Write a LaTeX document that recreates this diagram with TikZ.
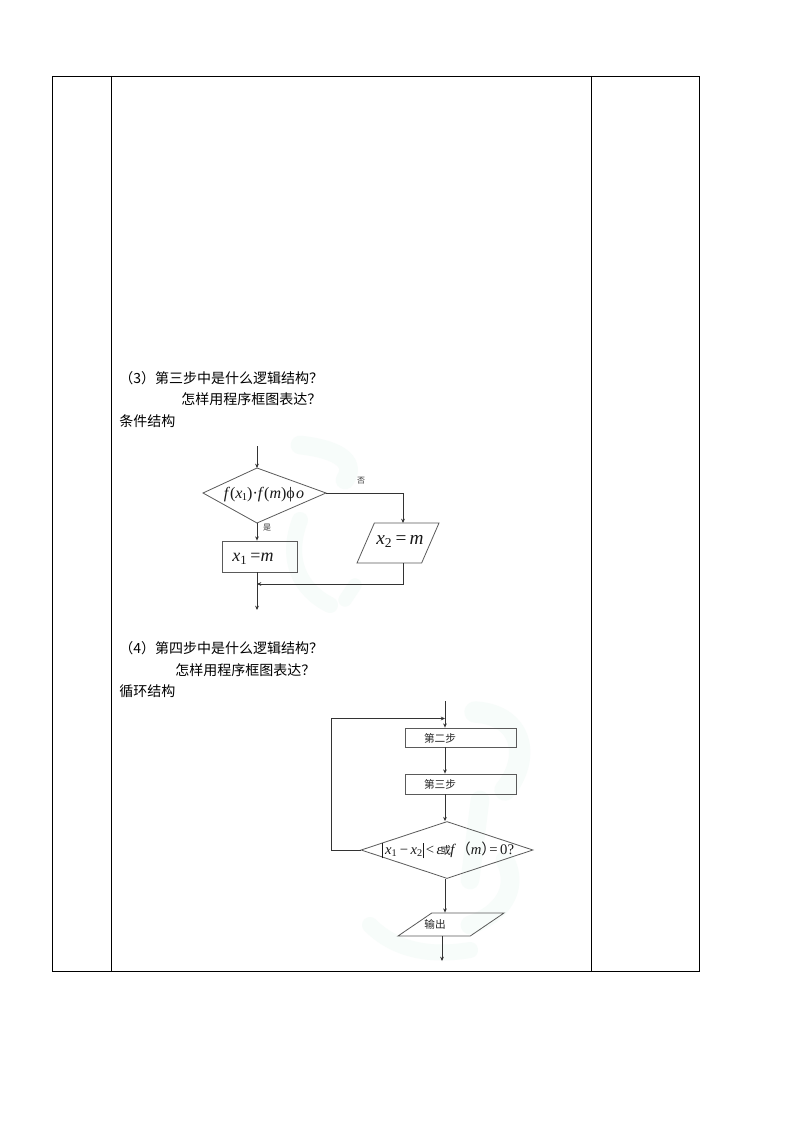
\documentclass[tikz,border=0pt]{standalone}
\usepackage{fontspec}
\usetikzlibrary{arrows.meta,shapes.geometric}
\setmainfont{Liberation Serif}
\newfontfamily\cjk{Noto Sans CJK SC}
\newcommand{\pxs}[1]{\fontsize{#1}{#1}\selectfont}
\newcommand{\vi}[1]{\textit{#1}}
\definecolor{boxgray}{HTML}{5A5A5A}
\definecolor{wm}{HTML}{F7FCFA}
\tikzset{
  x=0.75pt,y=-0.75pt,
  frame/.style={draw=black,line width=0.75pt},
  bodytext/.style={anchor=west,inner sep=0,font=\cjk\pxs{10.5pt},text=black},
  smalltext/.style={inner sep=0,font=\cjk\pxs{8pt},text=black!85},
  tinytext/.style={inner sep=0,font=\cjk\pxs{6pt},text=black!80},
  formula/.style={inner sep=0,font=\pxs{#1},text=black!90},
  processbox/.style={draw=boxgray,line width=0.6pt,rectangle,inner sep=0,minimum width=#1},
  decision/.style={draw=boxgray,line width=0.6pt,diamond,inner sep=0,aspect=2.2},
  decisionline/.style={draw=boxgray,line width=0.6pt,line join=miter},
  iobox/.style={draw=boxgray,line width=0.6pt,trapezium,trapezium stretches=true,inner sep=0},
  flow/.style={draw=black!80,line width=0.7pt},
  flowarrow/.style={flow,-{Stealth[length=3.2pt,width=2.8pt]}},
  blot/.style={draw=wm,line cap=round,line width=#1}
}
\begin{document}
\begin{tikzpicture}
\useasboundingbox (0,0) rectangle (794,1123);
\fill[white] (0,0) rectangle (794,1123);
% faint background watermark
\draw[blot=14pt] (300,445) .. controls (345,450) and (355,465) .. (345,480);
\draw[blot=12pt] (300,520) .. controls (285,560) and (300,590) .. (330,605);
\draw[blot=10pt] (345,600) -- (355,585);
\draw[blot=16pt] (475,712) .. controls (525,715) and (530,760) .. (505,790);
\draw[blot=14pt] (480,800) -- (470,880);
\draw[blot=14pt] (505,860) .. controls (520,890) and (500,915) .. (470,925);
\draw[blot=12pt] (370,925) .. controls (400,955) and (440,955) .. (470,950);
% table frame
\node[frame,rectangle,inner sep=0,minimum width=485.25pt,minimum height=671.25pt,anchor=north west] (tbl) at (52,76) {};
\coordinate (c1t) at (111,76); \coordinate (c1b) at (111,971);
\coordinate (c2t) at (591,76); \coordinate (c2b) at (591,971);
\draw[frame] (c1t) -- (c1b);
\draw[frame] (c2t) -- (c2b);
% texts
\node[bodytext] (t1) at (119,378) {（3）第三步中是什么逻辑结构？};
\node[bodytext] (t2) at (181,399) {怎样用程序框图表达？};
\node[bodytext] (t3) at (119,421) {条件结构};
\node[bodytext] (t4) at (119,648) {（4）第四步中是什么逻辑结构？};
\node[bodytext] (t5) at (175,670) {怎样用程序框图表达？};
\node[bodytext] (t6) at (119,691) {循环结构};
% flowchart 1
\coordinate (a0) at (257,446);
\coordinate (d1n) at (257,468);
\coordinate (d1e) at (326,493);
\coordinate (d1s) at (257,523);
\coordinate (d1w) at (203,493);
\draw[decisionline] (d1n) -- (d1e) -- (d1s) -- (d1w) -- cycle;
\node[formula=12pt] (d1t) at (264,494.5) {\vi{f}(\vi{x}\hspace{-0.5pt}\textsubscript{1}\hspace{-0.5pt})·\vi{f}(\vi{m})ϕ\hspace{1pt}\vi{o}};
\node[processbox=56.25pt,minimum height=23.25pt] (r1) at (259.5,556.5) {};
\node[formula=13.5pt] (r1t) at (253,559) {\vi{x}\textsubscript{1}\,=\vi{m}};
\node[iobox,trapezium left angle=68.2,trapezium right angle=111.8,minimum width=61.5pt,minimum height=30pt] (p1) at (398,543) {\phantom{x}};
\node[formula=14.5pt] (p1t) at (400,541) {\vi{x}\textsubscript{2}\,=\,\vi{m}};
\node[tinytext] (no1) at (361,481) {否};
\node[tinytext] (yes1) at (267,528) {是};
\coordinate (p1in) at (403,523);
\coordinate (p1out) at (403,563);
\coordinate (m1) at (257,584);
\coordinate (e1) at (257,610);
\draw[flowarrow] (a0) -- (d1n);
\draw[flowarrow] (d1s) -- (d1s |- r1.north);
\draw[flowarrow] (d1e) -| (p1in);
\draw[flowarrow] (p1out) |- (m1);
\draw[flowarrow] (m1 |- r1.south) -- (e1);
% flowchart 2
\coordinate (a2) at (445,701);
\coordinate (j2) at (445,718.5);
\node[processbox=83.25pt,minimum height=14.25pt] (r2) at (461,737.5) {};
\node[smalltext] (r2t) at (440,738) {第二步};
\node[processbox=83.25pt,minimum height=15pt] (r3) at (461,784) {};
\node[smalltext] (r3t) at (440,784) {第三步};
\node[decision,minimum width=129pt,minimum height=42.75pt] (d2) at (447,850) {};
\node[formula=11pt] (d2t) at (448,850) {\rule[-3pt]{0.5pt}{11.5pt}\,\vi{x}\textsubscript{1}\,−\,\vi{x}\textsubscript{2}\rule[-3pt]{0.5pt}{11.5pt}\,<\,\vi{ε}\hspace{-1.5pt}{\cjk\pxs{8pt}或}\hspace{-0.5pt}\vi{f}{\cjk（}\vi{m}{\cjk）}\hspace{-5pt}=\,0?};
\node[iobox,trapezium left angle=46.3,trapezium right angle=133.7,minimum width=79.5pt,minimum height=17.25pt] (p2) at (451,924.5) {\phantom{x}};
\node[smalltext] (p2t) at (435,924) {输出};
\coordinate (p2out) at (442,936);
\coordinate (e2) at (442,961);
\coordinate (lp) at (331,850);
\coordinate (lq) at (331,718.5);
\draw[flowarrow] (a2) -- (a2 |- r2.north);
\draw[flowarrow] (r2.south -| a2) -- (r3.north -| a2);
\draw[flowarrow] (r3.south -| a2) -- (d2.north -| a2);
\draw[flowarrow] (d2.south -| a2) -- (p2.north -| a2);
\draw[flowarrow] (p2out) -- (e2);
\draw[flowarrow] (d2.west) -- (lp) -- (lq) -- (j2);
\end{tikzpicture}
\end{document}
